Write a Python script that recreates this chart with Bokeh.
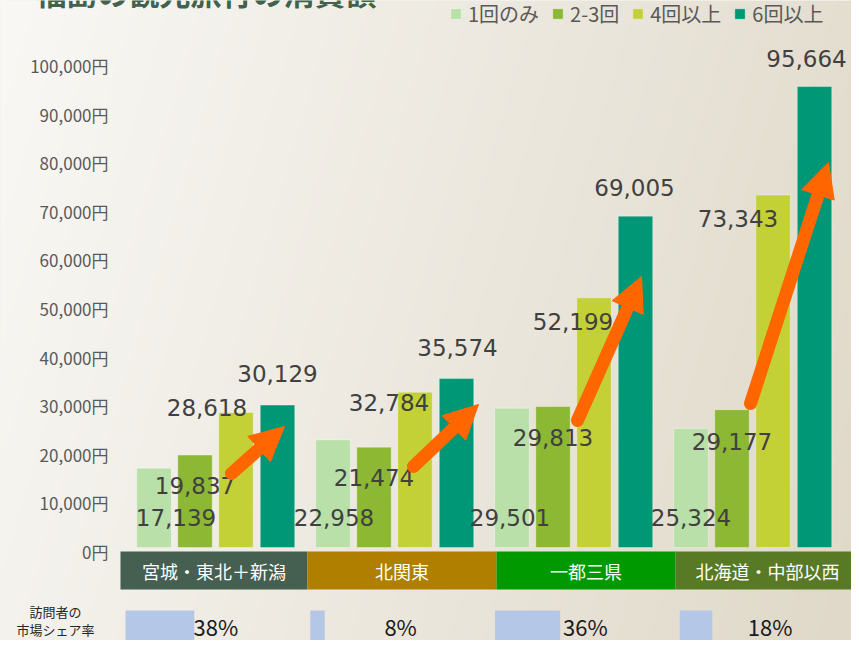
import math
import numpy as np
from bokeh.plotting import figure
from bokeh.models import ColumnDataSource, Range1d, Legend, LegendItem
from bokeh.core.properties import value
from bokeh.embed import file_html
from bokeh.resources import INLINE

# ---------------- data ----------------
title_text = "福島の観光旅行の消費額"
regions = ["宮城・東北＋新潟", "北関東", "一都三県", "北海道・中部以西"]
series_names = ["1回のみ", "2-3回", "4回以上", "6回以上"]
once = [17139, 22958, 29501, 25324]
two_three = [19837, 21474, 29813, 29177]
four_plus = [28618, 32784, 52199, 73343]
six_plus = [30129, 35574, 69005, 95664]
share_pct = [38, 8, 36, 18]
share_title = ["訪問者の", "市場シェア率"]
y_ticks = [0, 10000, 20000, 30000, 40000, 50000, 60000, 70000, 80000, 90000, 100000]

# ---------------- layout / style ----------------
W, H = 851, 640
G0, GAP = 215.0, 179.0        # px of first group centre, group spacing
ZERO, PPY = 551.0, 486.0 / 100000  # px of 0 yen, px per yen


def xd(px):
    return (px - G0) / GAP


def yd(py):
    return (ZERO - py) / PPY


COLORS = ["#b8e0a8", "#8cb833", "#c3d137", "#009776"]
BAND_COLORS = ["#455f50", "#b07f00", "#009a00", "#597a24"]
ORANGE = "#ff6600"
DODGE = [-61.5, -20.5, 20.5, 62.0]   # px offsets of bars in a group
BAR_W = 34.5
BAR_BASE = yd(547)
LABEL_ON_BASE = [True, False, False, False]
LABEL_DX = [[22, 1, -2, 0], [0, 0, 0, 0], [-29, -26, -21, -35], [0, 1, -1, -8]]
LABEL_DY = [[-34, -34, -34, -34], [30, 30, 31, 32], [-5, 10, 24, 23], [-32, -31, -29, -28]]
BAND_EDGES = [120, 307, 496, 675, 859]
BAND_TOP, BAND_BOT = 551, 589
CELL_L, CELL_W = 120, 184.75
SHARE_TOP, PX_PER_PCT = 610, 1.81
ARROWS = [((231, 473), (284, 426)), ((413, 466), (478, 404)),
          ((577, 420), (641, 276)), ((750, 403), (828, 162))]
HEAD_L, HEAD_W, SHAFT_W = 34, 34, 13
JP = value("Noto Sans CJK JP")
DV = value("DejaVu Sans")

x0, x1 = xd(0), xd(W)
y0, y1 = yd(H), yd(0)

p = figure(width=W, height=H, x_range=Range1d(x0, x1), y_range=Range1d(y0, y1),
           output_backend="svg", toolbar_location=None,
           x_axis_location=None, y_axis_location=None, min_border=0)
p.grid.visible = False
p.outline_line_color = None
p.background_fill_color = "#ebe7de"
p.border_fill_color = "#ebe7de"

# background gradient
ny, nx = 160, 213
gx = np.linspace(0, 1, nx)[None, :]
gy = (1 - np.linspace(0, 1, ny))[:, None]  # distance from top
t = np.clip(0.82 * gx + 0.18 * gy, 0, 1)
c0 = np.array([249, 248, 245])
c1 = np.array([224, 217, 201])
img = np.empty((ny, nx), dtype=np.uint32)
view = img.view(dtype=np.uint8).reshape((ny, nx, 4))
for k in range(3):
    view[:, :, k] = (c0[k] + (c1[k] - c0[k]) * t).astype(np.uint8)
view[:, :, 3] = 255
p.image_rgba(image=[img], x=x0, y=y0, dw=x1 - x0, dh=y1 - y0)

# title (cut at the top edge, as in the reference)
p.text(x=[xd(35)], y=[yd(13)], text=[title_text], text_font=JP, text_font_style="bold",
       text_font_size="31px", text_color="#41624c", text_baseline="bottom", text_align="left")

# y tick labels
p.text(x=[xd(108)] * len(y_ticks), y=y_ticks, text=[f"{v:,}円" for v in y_ticks],
       text_font=JP, text_font_size="17px", text_color="#595959",
       text_align="right", text_baseline="middle")

# bars
all_series = [once, two_three, four_plus, six_plus]
renderers = []
for s, vals in enumerate(all_series):
    xs = [i + DODGE[s] / GAP for i in range(len(regions))]
    src = ColumnDataSource(dict(x=xs, top=vals))
    r = p.vbar(x="x", top="top", bottom=BAR_BASE, width=BAR_W / GAP, source=src,
               fill_color=COLORS[s], line_color="#ffffff", line_alpha=0.35, line_width=1)
    renderers.append(r)

# data labels
lx, ly, lt, ldx, ldy = [], [], [], [], []
for s, vals in enumerate(all_series):
    for i, v in enumerate(vals):
        lx.append(i + DODGE[s] / GAP)
        ly.append(0 if LABEL_ON_BASE[s] else v)
        lt.append(f"{v:,}")
        ldx.append(LABEL_DX[s][i])
        ldy.append(LABEL_DY[s][i])
lsrc = ColumnDataSource(dict(x=lx, y=ly, text=lt, dx=ldx, dy=ldy))
p.text(x="x", y="y", text="text", x_offset="dx", y_offset="dy", source=lsrc,
       text_font=DV, text_font_size="23px", text_color="#404040",
       text_align="center", text_baseline="middle")

# arrows (shaft + triangular head)
sx0, sy0, sx1, sy1, hxs, hys = [], [], [], [], [], []
for (tx, ty), (hx, hy) in ARROWS:
    L = math.hypot(hx - tx, hy - ty)
    ux, uy = (hx - tx) / L, (hy - ty) / L
    nxv, nyv = -uy, ux
    bx, by = hx - HEAD_L * ux, hy - HEAD_L * uy
    sx0.append(xd(tx)); sy0.append(yd(ty))
    sx1.append(xd(bx + 4 * ux)); sy1.append(yd(by + 4 * uy))
    hxs.append([xd(hx), xd(bx + HEAD_W / 2 * nxv), xd(bx - HEAD_W / 2 * nxv)])
    hys.append([yd(hy), yd(by + HEAD_W / 2 * nyv), yd(by - HEAD_W / 2 * nyv)])
p.segment(x0=sx0, y0=sy0, x1=sx1, y1=sy1, line_color=ORANGE, line_width=SHAFT_W,
          line_cap="round")
p.patches(xs=hxs, ys=hys, fill_color=ORANGE, line_color=ORANGE, line_width=1)

# region bands
bl = [xd(BAND_EDGES[i]) for i in range(len(regions))]
br = [xd(BAND_EDGES[i + 1]) for i in range(len(regions))]
p.quad(left=bl, right=br, top=yd(BAND_TOP), bottom=yd(BAND_BOT), fill_color=BAND_COLORS,
       line_color=None)
p.text(x=[(a + b) / 2 for a, b in zip(bl, br)], y=[yd((BAND_TOP + BAND_BOT) / 2)] * len(regions),
       text=regions, text_font=JP, text_font_size="18px", text_color="white",
       text_align="center", text_baseline="middle")

# market share row
sl = [xd(CELL_L + CELL_W * i + 5) for i in range(len(share_pct))]
sr = [xd(CELL_L + CELL_W * i + 5 + PX_PER_PCT * v) for i, v in enumerate(share_pct)]
p.quad(left=sl, right=sr, top=yd(SHARE_TOP), bottom=y0 - 5000, fill_color="#b4c7e7",
       line_color=None)
p.text(x=[xd(CELL_L + CELL_W * (i + 0.5) + 3) for i in range(len(share_pct))],
       y=[yd(625)] * len(share_pct), text=[f"{v}%" for v in share_pct],
       text_font=JP, text_font_size="22px", text_color="#1a1a1a",
       text_align="center", text_baseline="middle")
p.text(x=[xd(55)] * 2, y=[yd(611), yd(629)], text=share_title, text_font=JP,
       text_font_size="13px", text_color="#262626", text_align="center", text_baseline="middle")

# legend
legend = Legend(items=[LegendItem(label=n, renderers=[r]) for n, r in zip(series_names, renderers)],
                orientation="horizontal", location=(449, 612), padding=0, margin=0,
                spacing=12, label_standoff=6, glyph_width=13, glyph_height=13,
                label_text_font_size="20px", label_text_color="#595959",
                label_text_font="Noto Sans CJK JP",
                background_fill_alpha=0, border_line_alpha=0)
p.add_layout(legend)

open("out.html", "w").write(file_html(p, INLINE))
